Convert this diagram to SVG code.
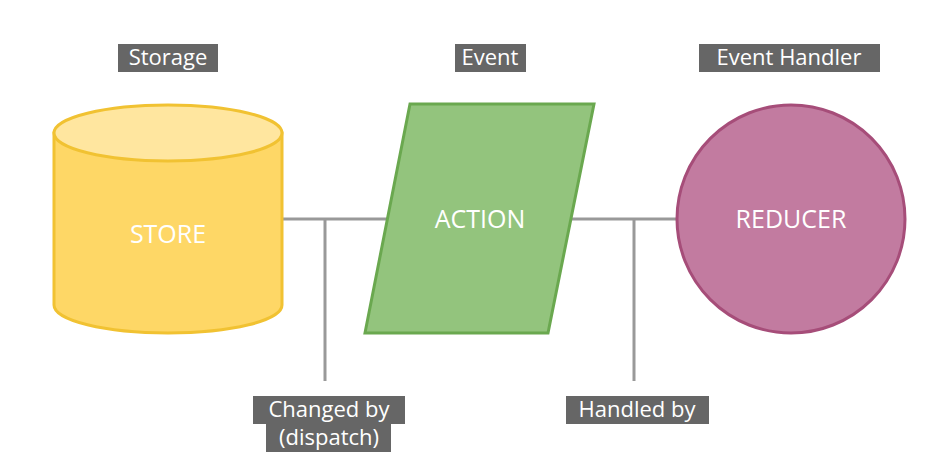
<svg xmlns="http://www.w3.org/2000/svg" width="947" height="470" viewBox="0 0 947 470">
<style>
.lb{fill:#666666}
.lt{font-family:"Open Sans","DejaVu Sans",sans-serif;font-size:22px;fill:#ffffff;text-anchor:middle}
.nt{font-family:"Open Sans","DejaVu Sans",sans-serif;font-size:25px;fill:#ffffff;text-anchor:middle}
.cn{stroke:#999999;stroke-width:3;fill:none}
</style>
<rect width="947" height="470" fill="#ffffff"/>
<g id="connectors">
<path class="cn" d="M283,219H388M325,219V381M572,219H677M634,219V381"/>
</g>
<g id="store">
<path d="M54,133V305A114,28 0 0 0 282,305V133Z" fill="#fed766" stroke="#f1c232" stroke-width="3"/>
<ellipse cx="168" cy="133" rx="114" ry="28" fill="#ffe69f" stroke="#f1c232" stroke-width="3"/>
<text class="nt" x="168" y="243">STORE</text>
</g>
<g id="action">
<polygon points="410,104 594,104 548,333 365,333" fill="#93c47d" stroke="#6aa84f" stroke-width="3"/>
<text class="nt" x="480" y="228">ACTION</text>
</g>
<g id="reducer">
<circle cx="791" cy="219" r="114" fill="#c27ba0" stroke="#a64d79" stroke-width="3"/>
<text class="nt" x="791" y="228">REDUCER</text>
</g>
<g id="label-storage"><rect class="lb" x="118" y="44" width="100" height="28"/><text class="lt" x="168" y="65">Storage</text></g>
<g id="label-event"><rect class="lb" x="455" y="44" width="71" height="28"/><text class="lt" x="490" y="65">Event</text></g>
<g id="label-handler"><rect class="lb" x="699" y="44" width="181" height="28"/><text class="lt" x="789" y="65">Event Handler</text></g>
<g id="label-changed"><rect class="lb" x="253" y="396" width="152" height="28"/><rect class="lb" x="266" y="424" width="125" height="28"/><text class="lt" x="329" y="417">Changed by</text><text class="lt" x="329" y="445">(dispatch)</text></g>
<g id="label-handled"><rect class="lb" x="566" y="396" width="143" height="28"/><text class="lt" x="637" y="417">Handled by</text></g>
</svg>
